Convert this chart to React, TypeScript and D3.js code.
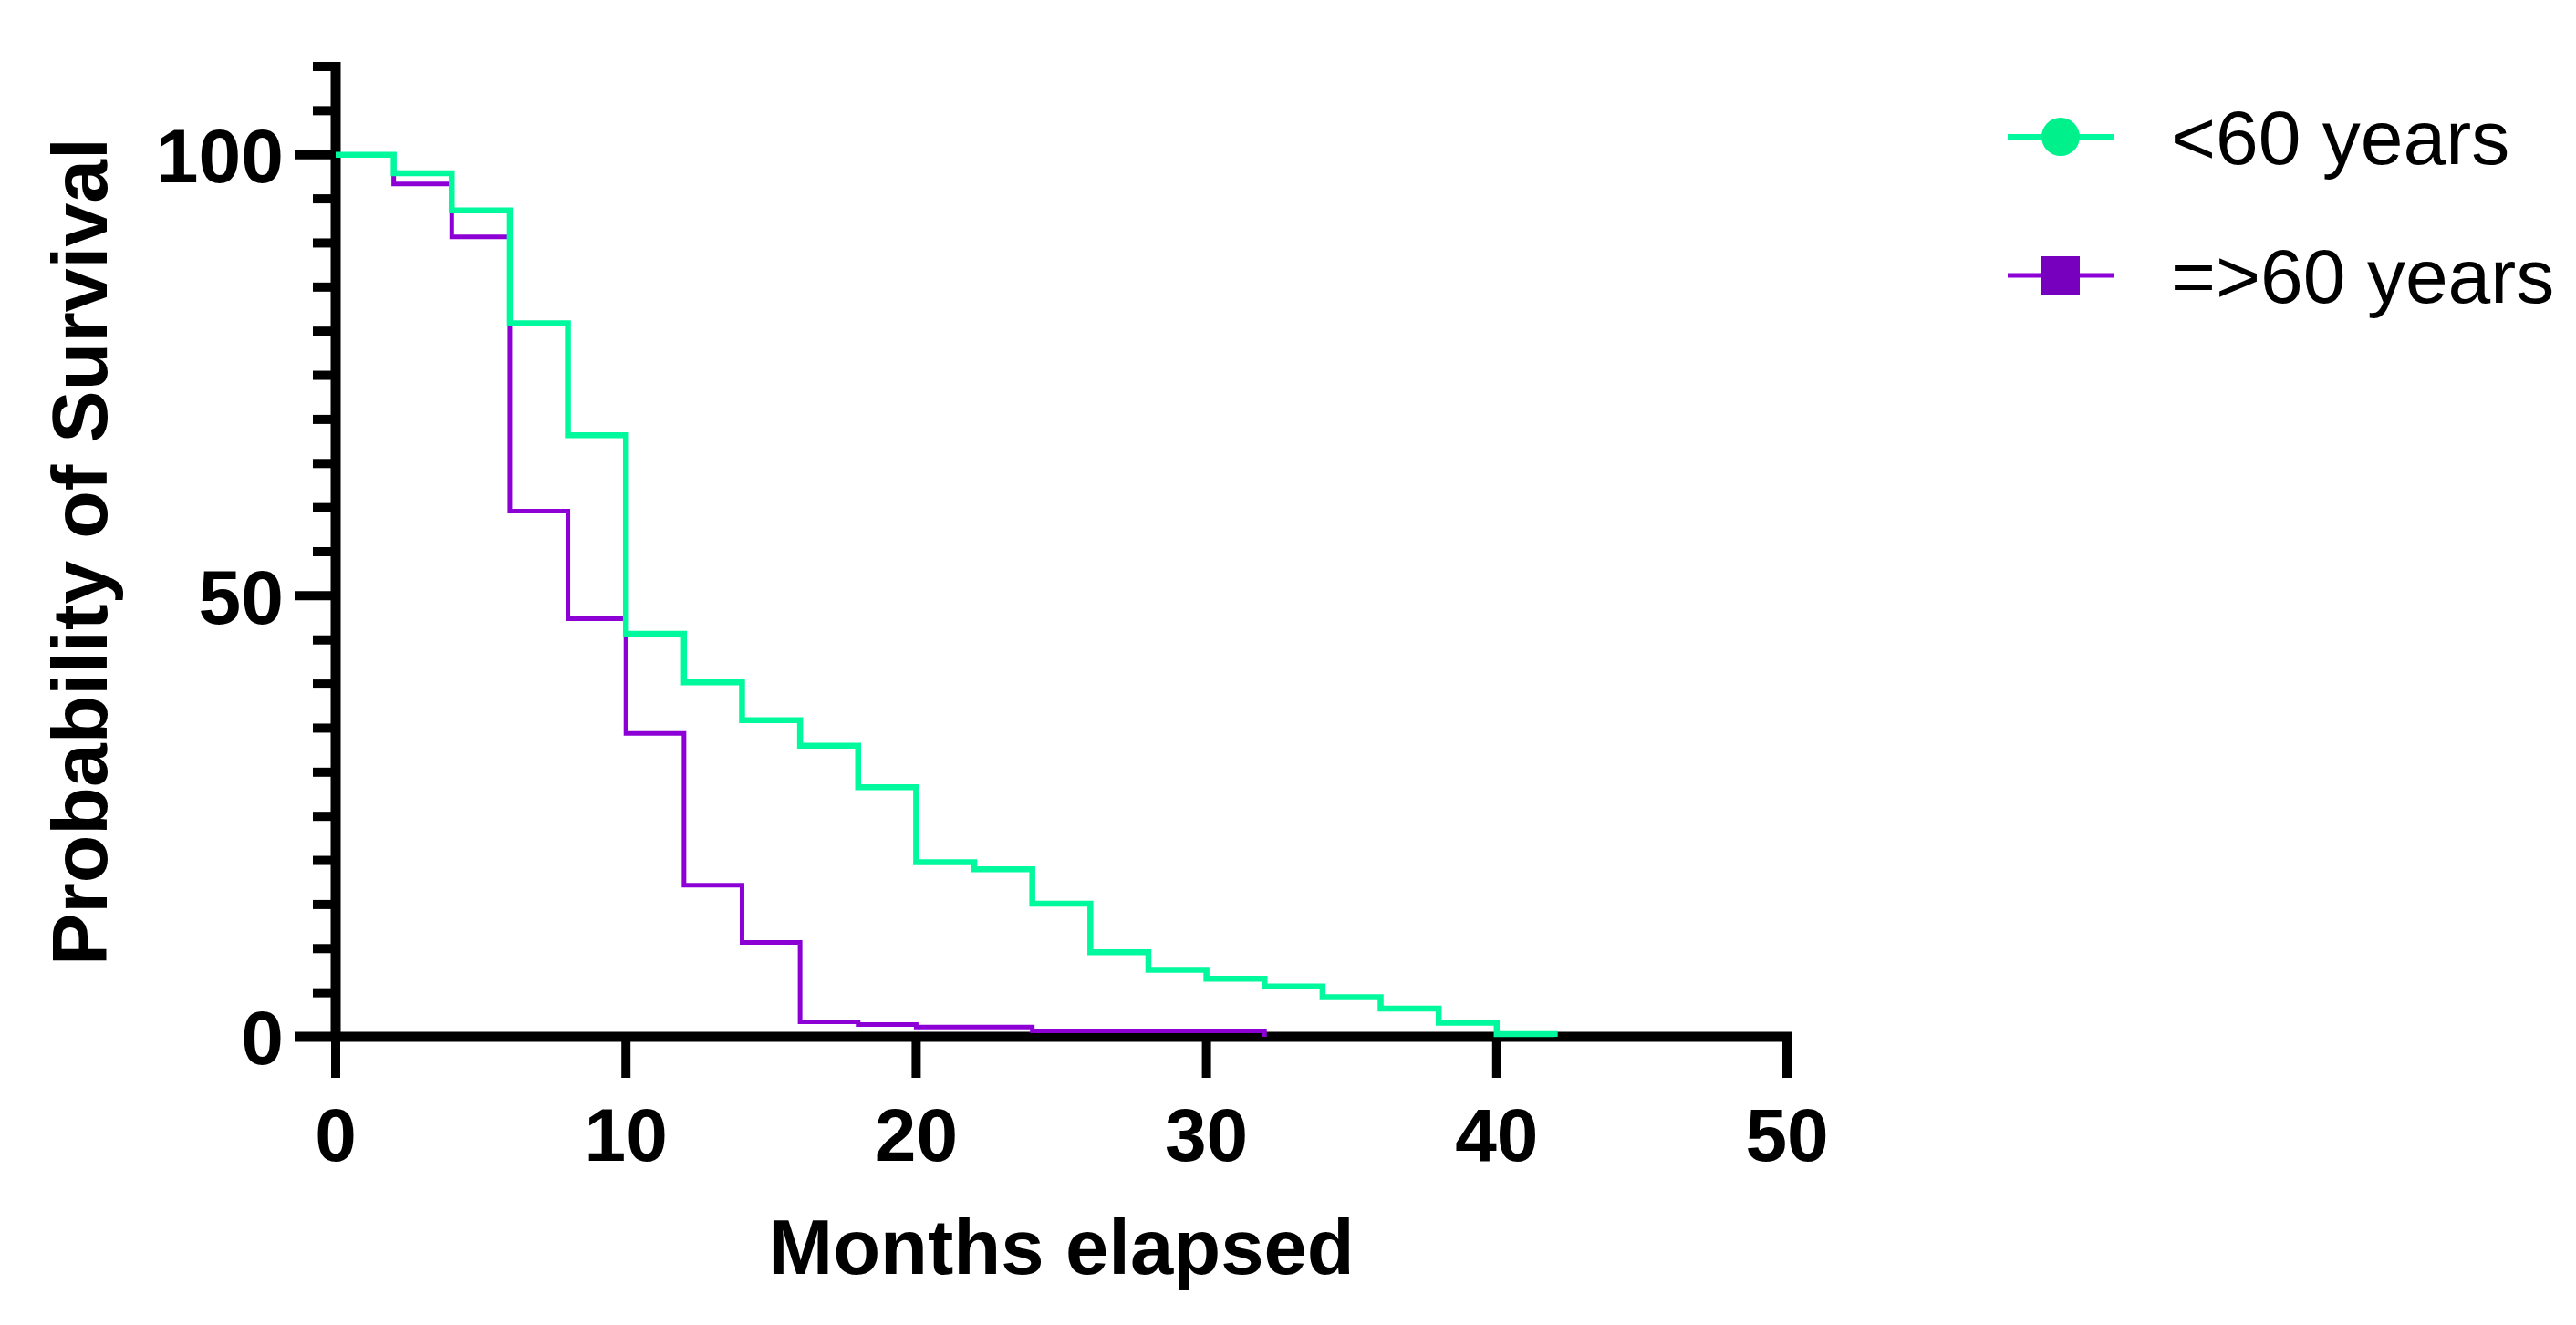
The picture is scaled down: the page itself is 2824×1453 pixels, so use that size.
import React from 'react';
import * as d3 from 'd3';

// Kaplan-Meier steps (months, % surviving)
const timesUnder60 = [0, 2, 4, 6, 8, 10, 12, 14, 16, 18, 20, 22, 24, 26, 28, 30, 32, 34, 36, 38, 40, 42];
const survivalUnder60 = [100, 97.9, 93.7, 80.9, 68.2, 45.7, 40.2, 35.9, 33.0, 28.3, 19.8, 19.0, 15.1, 9.6, 7.6, 6.6, 5.7, 4.5, 3.2, 1.6, 0.3, 0];

const timesOver60 = [0, 2, 4, 6, 8, 10, 12, 14, 16, 18, 20, 22, 24, 26, 28, 30, 32];
const survivalOver60 = [100, 96.7, 90.7, 59.6, 47.4, 34.4, 17.2, 10.7, 1.7, 1.4, 1.1, 1.1, 0.66, 0.66, 0.66, 0.66, 0];

const seriesNames = ['<60 years', '=>60 years'];
const xTickValues = [0, 10, 20, 30, 40, 50];
const yTickValues = d3.range(0, 111, 5);
const yLabelValues = [0, 50, 100];

const W = 2824;
const H = 1453;
const FONT = '"Liberation Sans", Arial, Helvetica, sans-serif';

const GREEN = '#00f99c';
const GREEN_MARK = '#00f08c';
const PURPLE = '#8c00d6';
const PURPLE_MARK = '#7700bf';

const App: React.FC = () => {
  const x = d3.scaleLinear().domain([0, 50]).range([368, 1959]);
  const y = d3.scaleLinear().domain([0, 110]).range([1137, 73]);

  const line = d3
    .line<[number, number]>()
    .x((d) => x(d[0]))
    .y((d) => y(d[1]))
    .curve(d3.curveStepAfter);

  const under = timesUnder60.map((t, i) => [t, survivalUnder60[i]] as [number, number]);
  const over = timesOver60.map((t, i) => [t, survivalOver60[i]] as [number, number]);

  const axisW = 11;
  const tickW = 10;
  const majorLen = 45;
  const minorLen = 25;

  return (
    <svg
      width={W}
      height={H}
      viewBox={`0 0 ${W} ${H}`}
      style={{ position: 'absolute', left: 0, top: 0, background: '#fff' }}
    >
      <rect width={W} height={H} fill="#fff" />

      {/* y axis */}
      <line x1={x(0)} x2={x(0)} y1={y(110) - tickW / 2} y2={y(0)} stroke="#000" strokeWidth={axisW} />
      {yTickValues.map((v) => {
        const major = yLabelValues.includes(v);
        return (
          <line
            key={'yt' + v}
            x1={x(0) - (major ? majorLen : minorLen)}
            x2={x(0)}
            y1={y(v)}
            y2={y(v)}
            stroke="#000"
            strokeWidth={tickW}
          />
        );
      })}
      {yLabelValues.map((v) => (
        <text
          key={'yl' + v}
          x={x(0) - majorLen - 12}
          y={y(v)}
          dy="0.36em"
          textAnchor="end"
          fontFamily={FONT}
          fontWeight="bold"
          fontSize={84}
          fill="#000"
        >
          {v}
        </text>
      ))}

      {/* x axis */}
      <line x1={x(0) - majorLen} x2={x(50) + tickW / 2} y1={y(0)} y2={y(0)} stroke="#000" strokeWidth={axisW} />
      {xTickValues.map((v) => (
        <line
          key={'xt' + v}
          x1={x(v)}
          x2={x(v)}
          y1={y(0)}
          y2={y(0) + majorLen}
          stroke="#000"
          strokeWidth={tickW}
        />
      ))}
      {xTickValues.map((v) => (
        <text
          key={'xl' + v}
          x={x(v)}
          y={1273}
          textAnchor="middle"
          fontFamily={FONT}
          fontWeight="bold"
          fontSize={82}
          fill="#000"
        >
          {v}
        </text>
      ))}

      {/* axis titles */}
      <text
        x={(x(0) + x(50)) / 2}
        y={1397}
        textAnchor="middle"
        fontFamily={FONT}
        fontWeight="bold"
        fontSize={85}
        fill="#000"
      >
        Months elapsed
      </text>
      <text
        transform={`translate(117, ${(y(110) + y(0)) / 2}) rotate(-90)`}
        textAnchor="middle"
        fontFamily={FONT}
        fontWeight="bold"
        fontSize={86}
        fill="#000"
      >
        Probability of Survival
      </text>

      {/* survival curves */}
      <path d={line(over) || ''} fill="none" stroke={PURPLE} strokeWidth={5} strokeLinejoin="miter" strokeLinecap="butt" />
      <path d={line(under) || ''} fill="none" stroke={GREEN} strokeWidth={6.5} strokeLinejoin="miter" strokeLinecap="butt" />

      {/* legend */}
      <g>
        <line x1={2201} x2={2318} y1={150} y2={150} stroke={GREEN} strokeWidth={6} />
        <circle cx={2259} cy={150} r={21} fill={GREEN_MARK} />
        <text x={2380} y={150} dy="0.36em" fontFamily={FONT} fontSize={84} fill="#000">
          {seriesNames[0]}
        </text>

        <line x1={2201} x2={2318} y1={302} y2={302} stroke={PURPLE} strokeWidth={5} />
        <rect x={2238} y={281} width={42} height={42} fill={PURPLE_MARK} />
        <text x={2380} y={302} dy="0.36em" fontFamily={FONT} fontSize={84} fill="#000">
          {seriesNames[1]}
        </text>
      </g>
    </svg>
  );
};

export default App;
